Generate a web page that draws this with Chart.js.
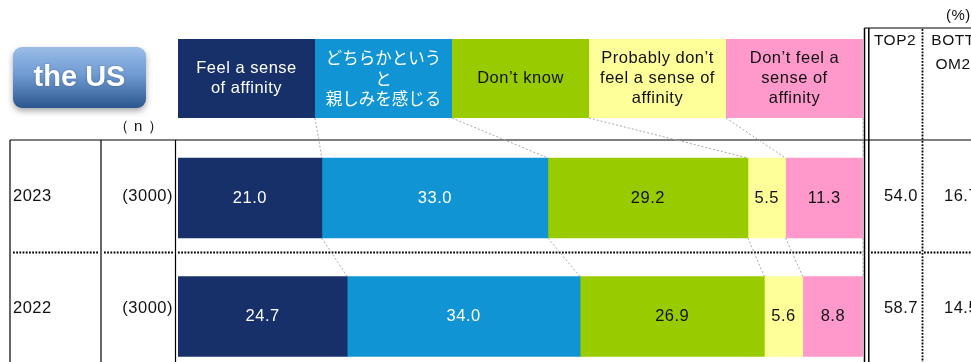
<!DOCTYPE html>
<html>
<head>
<meta charset="utf-8">
<script src="https://cdn.jsdelivr.net/npm/chart.js@4/dist/chart.umd.min.js"></script>
<style>
  html, body { margin: 0; padding: 0; background: #fff; overflow: hidden; }
  #wrap { width: 971px; height: 362px; overflow: hidden; position: relative; }
  #box { position: absolute; left: 0; top: 0; width: 971px; height: 400px; }
</style>
</head>
<body>
<div id="wrap"><div id="box"><canvas id="chart"></canvas></div></div>
<script>
// Survey years and sample sizes
const years = ['2023', '2022'];
const sampleSizes = ['(3000)', '(3000)'];

// Share of respondents per answer (%)
const feelAffinity = [21.0, 24.7];
const somewhatAffinity = [33.0, 34.0];
const dontKnow = [29.2, 26.9];
const probablyNoAffinity = [5.5, 5.6];
const noAffinity = [11.3, 8.8];

// Summary columns (%)
const top2 = [54.0, 58.7];
const bottom2 = [16.7, 14.5];

// Answer labels, one entry per line
const answerLabels = [
  ['Feel a sense', 'of affinity'],
  ['どちらかという', 'と', '親しみを感じる'],
  ['Don’t know'],
  ['Probably don’t', 'feel a sense of', 'affinity'],
  ['Don’t feel a', 'sense of', 'affinity']
];
const regionName = 'the US';

const colors = ['#17306a', '#1094d3', '#99cc00', '#ffff99', '#ff99cc'];
const textColors = ['#ffffff', '#ffffff', '#111111', '#111111', '#111111'];
const LATIN = '"Liberation Sans", Arial, sans-serif';
const CJK = '"Noto Sans CJK JP", sans-serif';

const seriesValues = [feelAffinity, somewhatAffinity, dontKnow, probablyNoAffinity, noAffinity];

// Table geometry
const HEADER_TOP = 39, HEADER_BOTTOM = 118;
const TABLE_TOP = 140, ROW_SPLIT = 252.5, TABLE_BOTTOM = 365;
const rowCenters = [(TABLE_TOP + ROW_SPLIT) / 2, (ROW_SPLIT + TABLE_BOTTOM) / 2];

// Pick a font per string: Japanese text uses the CJK face, the rest a lightly tracked sans
function setFont(ctx, text, size) {
  if (/[\u3000-\u9fff]/.test(text)) {
    ctx.font = size + 'px ' + CJK;
    ctx.letterSpacing = '0px';
  } else {
    ctx.font = size + 'px ' + LATIN;
    ctx.letterSpacing = '0.5px';
  }
}

function drawText(ctx, text, x, y, size, align) {
  setFont(ctx, text, size);
  ctx.textAlign = align || 'center';
  ctx.textBaseline = 'middle';
  ctx.fillText(text, x, y);
}

function dottedLine(ctx, x0, y0, x1, y1) {
  ctx.save();
  ctx.strokeStyle = '#000';
  ctx.lineWidth = 1.8;
  ctx.setLineDash([1.8, 1.4]);
  ctx.beginPath();
  ctx.moveTo(x0, y0);
  ctx.lineTo(x1, y1);
  ctx.stroke();
  ctx.restore();
}

function solidLine(ctx, x0, y0, x1, y1, w) {
  ctx.save();
  ctx.strokeStyle = '#000';
  ctx.lineWidth = w || 1.2;
  ctx.beginPath();
  ctx.moveTo(x0, y0);
  ctx.lineTo(x1, y1);
  ctx.stroke();
  ctx.restore();
}

const surveyTable = {
  id: 'surveyTable',
  beforeDatasetsDraw(chart) {
    const ctx = chart.ctx;
    const xs = chart.scales.x;

    // Region badge
    ctx.save();
    const grad = ctx.createLinearGradient(0, 47, 0, 108);
    grad.addColorStop(0, '#9bbde8');
    grad.addColorStop(0.45, '#6f9ad2');
    grad.addColorStop(1, '#2b568e');
    ctx.shadowColor = 'rgba(0,0,0,0.35)';
    ctx.shadowBlur = 6;
    ctx.shadowOffsetY = 3;
    ctx.fillStyle = grad;
    ctx.beginPath();
    ctx.roundRect(13, 47, 133, 61, 9);
    ctx.fill();
    ctx.restore();
    ctx.save();
    ctx.fillStyle = '#fff';
    ctx.font = 'bold 29px "Liberation Sans", Arial, sans-serif';
    ctx.textAlign = 'center';
    ctx.textBaseline = 'middle';
    ctx.shadowColor = 'rgba(0,0,0,0.3)';
    ctx.shadowBlur = 2;
    ctx.fillText(regionName, 79.5, 78);
    ctx.restore();

    // Answer header boxes (each takes a fifth of the bar width)
    ctx.save();
    answerLabels.forEach((lines, k) => {
      const x0 = xs.getPixelForValue(20 * k);
      const x1 = xs.getPixelForValue(20 * (k + 1));
      ctx.fillStyle = colors[k];
      ctx.fillRect(x0, HEADER_TOP, x1 - x0, HEADER_BOTTOM - HEADER_TOP);
      ctx.fillStyle = textColors[k];
      const lh = 20.3;
      const cy = (HEADER_TOP + HEADER_BOTTOM) / 2;
      lines.forEach((t, i) => {
        drawText(ctx, t, (x0 + x1) / 2, cy + (i - (lines.length - 1) / 2) * lh, 16.5);
      });
    });
    ctx.restore();

    // Units
    ctx.save();
    ctx.fillStyle = '#111';
    drawText(ctx, '（ n ）', 138.5, 126.5, 15);
    drawText(ctx, '(%)', 946, 16, 15, 'left');
    ctx.restore();

    // Table frame
    const right = chart.width;
    const barEnd = xs.getPixelForValue(100);
    solidLine(ctx, 10, TABLE_TOP, right, TABLE_TOP);
    solidLine(ctx, 10, TABLE_TOP, 10, chart.height);
    solidLine(ctx, 101, TABLE_TOP, 101, chart.height);
    solidLine(ctx, 175.5, TABLE_TOP, 175.5, chart.height);
    solidLine(ctx, 864.5, 28, right, 28);
    solidLine(ctx, 864.5, 28, 864.5, chart.height, 1.5);
    solidLine(ctx, 868.8, 28, 868.8, chart.height, 1.5);
    dottedLine(ctx, 922.5, 29, 922.5, chart.height);
    dottedLine(ctx, 13, ROW_SPLIT, 99, ROW_SPLIT);
    dottedLine(ctx, 104, ROW_SPLIT, 173, ROW_SPLIT);
    dottedLine(ctx, 178, ROW_SPLIT, barEnd, ROW_SPLIT);
    dottedLine(ctx, 871, ROW_SPLIT, 921, ROW_SPLIT);
    dottedLine(ctx, 924, ROW_SPLIT, right, ROW_SPLIT);

    // Row labels
    ctx.save();
    ctx.fillStyle = '#111';
    years.forEach((y, i) => {
      drawText(ctx, y, 13, rowCenters[i], 16.5, 'left');
      drawText(ctx, sampleSizes[i], 173, rowCenters[i], 16.5, 'right');
    });
    // Summary column headers and values
    drawText(ctx, 'TOP2', 895, 41, 15.5);
    drawText(ctx, 'BOTT', 953, 41, 15.5);
    drawText(ctx, 'OM2', 953, 65, 15.5);
    years.forEach((y, i) => {
      drawText(ctx, top2[i].toFixed(1), 918, rowCenters[i], 16.5, 'right');
      drawText(ctx, bottom2[i].toFixed(1), 944, rowCenters[i], 16.5, 'left');
    });
    ctx.restore();
  },
  afterDatasetsDraw(chart) {
    const ctx = chart.ctx;
    const xs = chart.scales.x;
    const metas = chart.data.datasets.map((d, i) => chart.getDatasetMeta(i));

    // Guide lines joining the answer boundaries
    ctx.save();
    ctx.strokeStyle = '#a8a8a8';
    ctx.lineWidth = 1;
    ctx.setLineDash([2, 2]);
    metas.forEach((meta, k) => {
      const a = meta.data[0], b = meta.data[1];
      ctx.beginPath();
      ctx.moveTo(xs.getPixelForValue(20 * (k + 1)), HEADER_BOTTOM);
      ctx.lineTo(a.x, a.y - a.height / 2);
      ctx.moveTo(a.x, a.y + a.height / 2);
      ctx.lineTo(b.x, b.y - b.height / 2);
      ctx.stroke();
    });
    ctx.restore();

    // Value labels inside each segment
    ctx.save();
    metas.forEach((meta, k) => {
      ctx.fillStyle = textColors[k];
      meta.data.forEach((el, j) => {
        const v = chart.data.datasets[k].data[j];
        drawText(ctx, v.toFixed(1), (el.x + el.base) / 2, el.y, 16.5);
      });
    });
    ctx.restore();
  }
};

new Chart(document.getElementById('chart'), {
  type: 'bar',
  data: {
    labels: years,
    datasets: seriesValues.map((vals, k) => ({
      label: answerLabels[k].join(' '),
      data: vals,
      backgroundColor: colors[k],
      borderWidth: 0,
      barThickness: 80
    }))
  },
  options: {
    indexAxis: 'y',
    responsive: true,
    maintainAspectRatio: false,
    animation: false,
    layout: { padding: { left: 178, right: 108, top: 138.75, bottom: 24.25 } },
    scales: {
      x: { stacked: true, min: 0, max: 100, display: false },
      y: { stacked: true, display: false }
    },
    plugins: { legend: { display: false }, tooltip: { enabled: false } }
  },
  plugins: [surveyTable]
});
</script>
</body>
</html>
